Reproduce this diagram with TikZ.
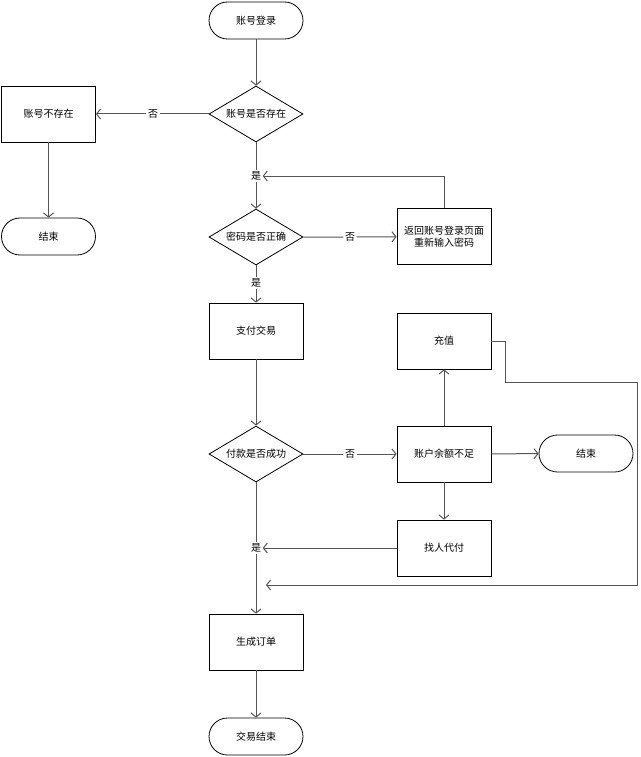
\documentclass[tikz,border=0pt]{standalone}
\usepackage{fontspec}
\newfontfamily\cjk{Noto Sans CJK SC}
\usetikzlibrary{shapes.geometric,arrows.meta}
\definecolor{lineg}{RGB}{85,85,85}
\begin{document}
\begin{tikzpicture}[x=1pt,y=-1pt,
  base/.style={draw=black,line width=0.8pt,font=\cjk\fontsize{10}{12}\selectfont,align=center,inner sep=0pt},
  term/.style={base,rounded corners=18.5pt,minimum width=94pt,minimum height=37pt},
  proc/.style={base,rectangle,minimum width=94pt,minimum height=56pt},
  dec/.style={base,diamond,aspect=1.68,minimum width=94pt,minimum height=56pt},
  lbl/.style={font=\cjk\fontsize{10}{12}\selectfont,fill=white,inner sep=1.5pt},
  conn/.style={draw=lineg,line width=1pt},
  arr/.style={conn,-{Straight Barb[length=4pt,width=10pt]}}]
\useasboundingbox (0,0) rectangle (640,757);
% nodes
\node[term] (start) at (256,20.5) {账号登录};
\node[dec] (d1) at (256,114) {账号是否存在};
\node[proc] (nx) at (48.5,114) {账号不存在};
\node[term] (end1) at (48.5,236.5) {结束};
\node[dec] (d2) at (256,237) {密码是否正确};
\node[proc] (ret) at (444,236.5) {返回账号登录页面\\重新输入密码};
\node[proc] (pay) at (256,331) {支付交易};
\node[proc] (chg) at (444,341) {充值};
\node[dec] (d3) at (256,454) {付款是否成功};
\node[proc] (low) at (444,454) {账户余额不足};
\node[term] (end2) at (586,453.5) {结束};
\node[proc] (oth) at (444,548) {找人代付};
\node[proc] (gen) at (256,642) {生成订单};
\node[term] (fin) at (256,736.5) {交易结束};
% labels
\node[lbl] (n1) at (153,114) {否};
\node[lbl] (y1) at (256,176) {是};
\node[lbl] (n2) at (350,237) {否};
\node[lbl] (y2) at (256,283) {是};
\node[lbl] (n3) at (350,454) {否};
\node[lbl] (y3) at (256,548) {是};
\coordinate (back) at (266,585);
% connectors
\draw[arr] (start) -- (d1);
\draw[arr] (d1) -- (n1) -- (nx);
\draw[arr] (nx) -- (end1);
\draw[arr] (d1) -- (y1) -- (d2);
\draw[arr] (d2) -- (n2) -- (ret);
\draw[arr] (ret.north) |- (y1.east);
\draw[arr] (d2) -- (y2) -- (pay);
\draw[arr] (pay) -- (d3);
\draw[arr] (d3) -- (n3) -- (low);
\draw[arr] (low) -- (end2);
\draw[arr] (low) -- (chg);
\draw[arr] (low) -- (oth);
\draw[arr] (oth) -- (y3);
\draw[arr] (d3) -- (y3) -- (gen);
\draw[arr] (chg.east) -- ++(14,0) -- ++(0,41) -- (637,382) -- (637,585) -- (back);
\draw[arr] (gen) -- (fin);
\end{tikzpicture}
\end{document}
